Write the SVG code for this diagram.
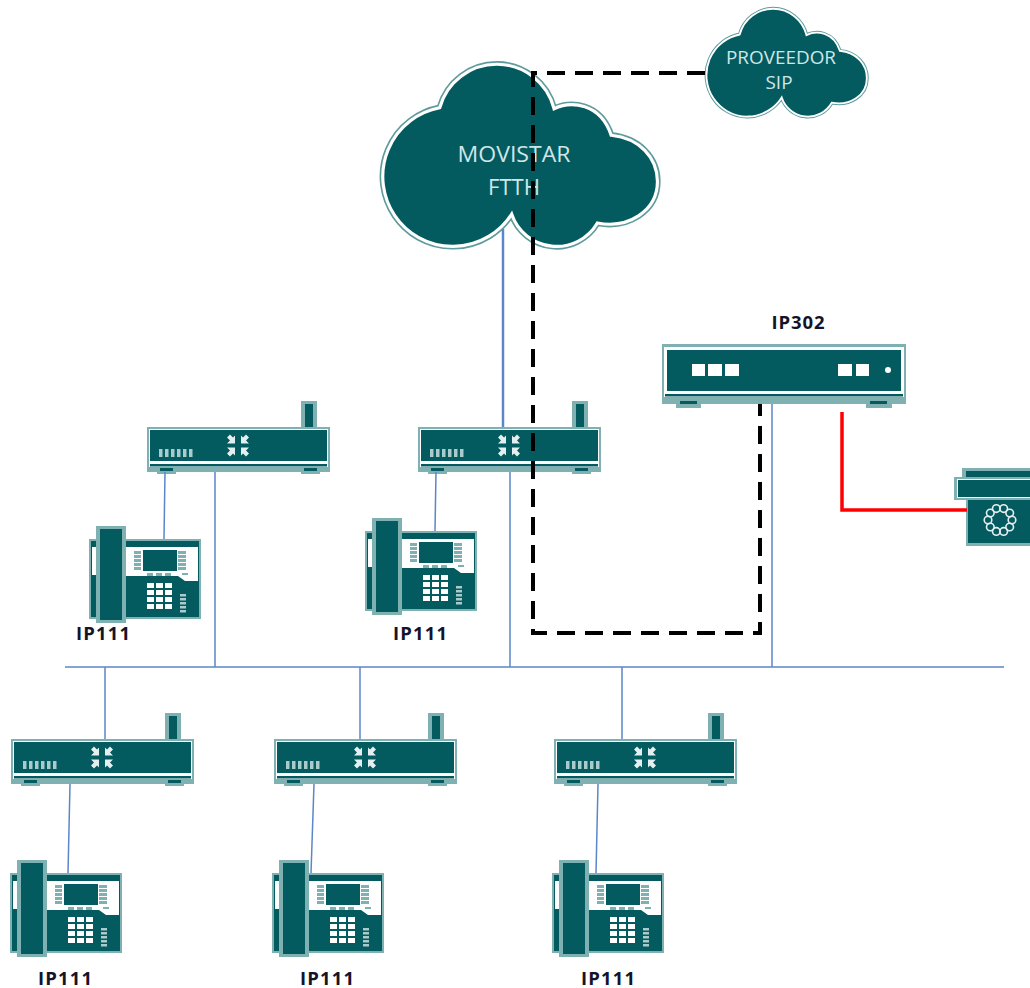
<svg xmlns="http://www.w3.org/2000/svg" width="1030" height="988" viewBox="0 0 1030 988">
<style>
.d{fill:#035b60}
.o{fill:#7fb0b2}
.w{fill:#fff}
.p{fill:#e4efef}
.blue{fill:none;stroke:#5b86c8;stroke-width:1.5}
.lab{font:bold 18.5px "Open Sans","Liberation Sans",sans-serif;fill:#141428;text-anchor:middle}
.cl{font-family:"Open Sans","Liberation Sans",sans-serif;fill:#cfe6e8;text-anchor:middle}
.dial{fill:none;stroke:#e4efef;stroke-width:1.6}
</style>
<defs>
<path id="cp" d="M510 215A71 71 0 1 1 437 107A60 60 0 0 1 553 108C570 100 600 102 611 135C640 138 658 158 658 182C658 212 628 230 597 224A48 48 0 0 1 510 215Z"/>
<g id="cloud" transform="translate(521.500 155) scale(.985) translate(-520 -155)">
<use href="#cp" fill="#5f9a9c" stroke="#5f9a9c" stroke-width="6.500" stroke-linejoin="round"/>
<use href="#cp" fill="#035b60" stroke="#fff" stroke-width="3.200"/>
</g>
<g id="router">
<rect class="o" x="154" y="-26" width="16" height="28"/>
<rect class="d" x="158" y="-23" width="8" height="25"/>
<rect class="o" x="0" y="0" width="183" height="45"/>
<rect class="w" x="2" y="2" width="179" height="38"/>
<rect class="d" x="3" y="3" width="177" height="31"/>
<rect class="d" x="3" y="37" width="177" height="2.500"/>
<path class="o" d="M10 44h19v3h-19zM154 44h19v3h-19z"/>
<path class="d" d="M13 41h13v3h-13zM157 41h13v3h-13z"/>
<path fill="#a9cbcc" d="M12 22h3.500v8h-3.500zM18 22h3.500v8h-3.500zM24 22h3.500v8h-3.500zM30 22h3.500v8h-3.500zM36 22h3.500v8h-3.500zM42 22h3.500v8h-3.500z"/>
<path class="p" d="M88 16.500h-8l3-3-3-3 3-3 3 3 2-2zM94 16.500h8l-3-3 3-3-3-3-3 3-2-2zM88 20.500h-8l3 3-3 3 3 3 3-3 2 2zM94 20.500h8l-3 3 3 3-3 3-3-3-2 2z"/>
</g>
<g id="phone">
<rect class="o" x="-1" y="12" width="112" height="80"/>
<rect class="d" x="1" y="14" width="108" height="76"/>
<path class="w" d="M35 20H108V54L95 54L88 49H35z"/>
<rect class="w" x="2" y="20" width="8" height="28"/>
<rect class="d" x="53" y="23" width="34" height="21"/>
<path class="o" d="M44 24h7v3h-7zM44 28h7v3h-7zM44 32h7v3h-7zM44 36h7v3h-7zM44 40h7v3h-7zM88 24h8v3h-8zM88 28h8v3h-8zM88 32h8v3h-8zM88 36h8v3h-8zM88 40h8v3h-8zM57 46h6v3h-6zM66 46h6v3h-6zM75 46h6v3h-6zM92 46h6v2h-6z"/>
<path class="w" d="M57 56h7v5h-7zM66 56h7v5h-7zM75 56h7v5h-7zM57 63h7v5h-7zM66 63h7v5h-7zM75 63h7v5h-7zM57 70h7v5h-7zM66 70h7v5h-7zM75 70h7v5h-7zM57 77h7v5h-7zM66 77h7v5h-7zM75 77h7v5h-7z"/>
<path fill="#a9cbcc" d="M90 67h6v2.500h-6zM90 71h6v2.500h-6zM90 75h6v2.500h-6zM90 79h6v2.500h-6zM90 83h6v2.500h-6z"/>
<rect class="o" x="6" y="-1" width="30" height="97"/>
<rect class="d" x="10" y="2" width="22" height="91"/>
</g>
</defs>

<g id="nube-movistar">
<use href="#cloud"/>
<text class="cl" x="514" y="162" font-size="21" textLength="113" lengthAdjust="spacingAndGlyphs">MOVISTAR</text>
<text class="cl" x="514" y="195" font-size="21" textLength="52" lengthAdjust="spacingAndGlyphs">FTTH</text>
</g>
<g id="nube-sip">
<use href="#cloud" transform="translate(706 8) scale(.584 .592) translate(-382 -63)"/>
<text class="cl" x="781" y="64" font-size="18" textLength="110" lengthAdjust="spacingAndGlyphs">PROVEEDOR</text>
<text class="cl" x="779" y="89" font-size="18" textLength="27" lengthAdjust="spacingAndGlyphs">SIP</text>
</g>

<g id="router-1"><use href="#router" x="147" y="427"/></g>
<g id="router-2"><use href="#router" x="418" y="427"/></g>
<g id="router-3"><use href="#router" x="11" y="739"/></g>
<g id="router-4"><use href="#router" x="274" y="739"/></g>
<g id="router-5"><use href="#router" x="554" y="739"/></g>

<g id="telefono-1"><use href="#phone" x="90" y="527"/><text class="lab" x="103" y="640" textLength="54">IP111</text></g>
<g id="telefono-2"><use href="#phone" x="366" y="519"/><text class="lab" x="420" y="640" textLength="54">IP111</text></g>
<g id="telefono-3"><use href="#phone" x="11" y="861"/><text class="lab" x="65" y="985" textLength="54">IP111</text></g>
<g id="telefono-4"><use href="#phone" x="273" y="861"/><text class="lab" x="327" y="985" textLength="54">IP111</text></g>
<g id="telefono-5"><use href="#phone" x="553" y="861"/><text class="lab" x="608" y="985" textLength="54">IP111</text></g>

<g id="ip302">
<rect class="o" x="662" y="344" width="244" height="60"/>
<rect class="w" x="664" y="347" width="240" height="50"/>
<rect class="d" x="667" y="350" width="234" height="41"/>
<rect class="d" x="665" y="394" width="238" height="2.500"/>
<path class="o" d="M676 403h25v5h-25zM866 403h26v5h-26z"/>
<path class="d" d="M680 401h17v3h-17zM870 401h17v3h-17z"/>
<path class="w" d="M692 364h13v12h-13zM708 364h14v12h-14zM725 364h14v12h-14zM838 364h14v12h-14zM856 364h13v12h-13z"/>
<circle class="w" cx="888" cy="370" r="3"/>
<text class="lab" x="798" y="329" textLength="53">IP302</text>
</g>

<g id="telefono-analogico">
<rect class="o" x="962" y="468" width="68" height="12"/>
<rect class="d" x="966" y="471" width="64" height="8"/>
<rect class="o" x="966" y="498" width="64" height="48"/>
<rect class="d" x="968" y="500" width="62" height="43"/>
<rect class="o" x="954" y="477" width="76" height="23"/>
<rect class="w" x="957" y="479" width="73" height="19"/>
<rect class="d" x="958" y="480" width="72" height="17"/>
<g class="dial">
<circle cx="1012" cy="520" r="3.800"/><circle cx="1009.700" cy="527" r="3.800"/><circle cx="1003.700" cy="531.400" r="3.800"/><circle cx="996.300" cy="531.400" r="3.800"/><circle cx="990.300" cy="527" r="3.800"/><circle cx="988" cy="520" r="3.800"/><circle cx="990.300" cy="513" r="3.800"/><circle cx="996.300" cy="508.600" r="3.800"/><circle cx="1003.700" cy="508.600" r="3.800"/><circle cx="1009.700" cy="513" r="3.800"/>
</g>
</g>

<g id="conectores">
<path class="blue" d="M65 667H1004"/>
<path class="blue" d="M215 472V667M510 472V667M772 404V667M105 667V739M360 667V739M622 667V739"/>
<path class="blue" d="M165 472L164 539M436 472L435 531M70 784L68 873M314 784L311 873M598 784L596 873"/>
<path class="blue" style="stroke-width:2.500" d="M503 229V427"/>
<path fill="none" stroke="#f00" stroke-width="3.500" d="M842 412V510H967"/>
<path fill="none" stroke="#000" stroke-width="4" stroke-dasharray="18 10" d="M705 73H533V633H760V404"/>
</g>
</svg>
